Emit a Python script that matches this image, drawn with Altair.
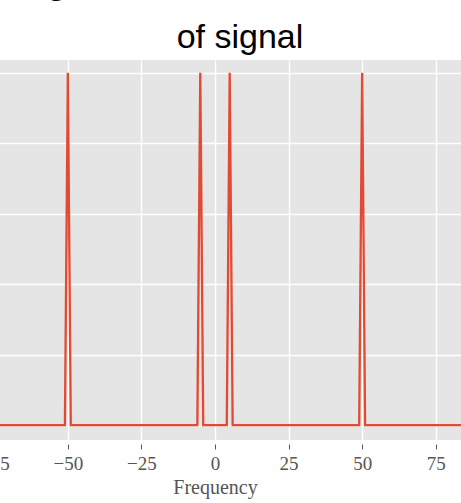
import altair as alt
import pandas as pd

# Data
freqs = list(range(-100, 101))          # frequency bins, 1 Hz apart
peak_freqs = [-50, -5, 5, 50]           # spikes
peak_amps = [500, 500, 500, 500]        # spike heights (equal)
floor_amp = 0                           # everywhere else

peaks = dict(zip(peak_freqs, peak_amps))
amps = [peaks.get(f, floor_amp) for f in freqs]
df = pd.DataFrame({"freq": freqs, "amp": amps})

x_ticks = [-100, -75, -50, -25, 0, 25, 50, 75, 100]
y_ticks = [0, 100, 200, 300, 400, 500]

title_line1 = "\u00a0\u00a0\u00a0\u00a0\u00a0Figure of Fourier Transform"
title_line2 = "of signal"

chart = (
    alt.Chart(df)
    .mark_line(color="#E24A33", strokeWidth=2.3, clip=True)
    .encode(
        x=alt.X(
            "freq:Q",
            scale=alt.Scale(domain=[-105, 105], nice=False, zero=False),
            axis=alt.Axis(
                values=x_ticks,
                title="Frequency",
                domain=False,
                grid=True,
                gridColor="white",
                gridWidth=1.4,
                ticks=True,
                tickColor="#555555",
                tickSize=5,
                tickWidth=1,
                offset=4,
                labelFont="Liberation Serif",
                labelFontSize=19,
                labelColor="#555555",
                labelPadding=5,
                titleFont="Liberation Serif",
                titleFontSize=20,
                titleFontWeight="normal",
                titleColor="#555555",
                titlePadding=4,
            ),
        ),
        y=alt.Y(
            "amp:Q",
            scale=alt.Scale(domain=[-21, 518], nice=False, zero=False),
            axis=alt.Axis(
                values=y_ticks,
                title=None,
                domain=False,
                grid=True,
                gridColor="white",
                gridWidth=1.4,
                ticks=False,
                labels=False,
            ),
        ),
    )
    .properties(
        width=618,
        height=380,
        autosize="none",
        padding={"left": -94, "top": 60, "right": -63, "bottom": 63},
        background="white",
        title=alt.Title(
            title_line1,
            subtitle=title_line2,
            font="Liberation Sans",
            fontSize=34,
            fontWeight="bold",
            color="black",
            subtitleFont="Liberation Sans",
            subtitleFontSize=34,
            subtitleFontWeight="normal",
            subtitleColor="black",
            subtitlePadding=20,
            anchor="middle",
            dx=25,
            offset=5,
        ),
    )
    .configure_view(fill="#E5E5E5", stroke=None)
)

chart.save("out.html", embed_options={"renderer": "svg", "actions": False})
